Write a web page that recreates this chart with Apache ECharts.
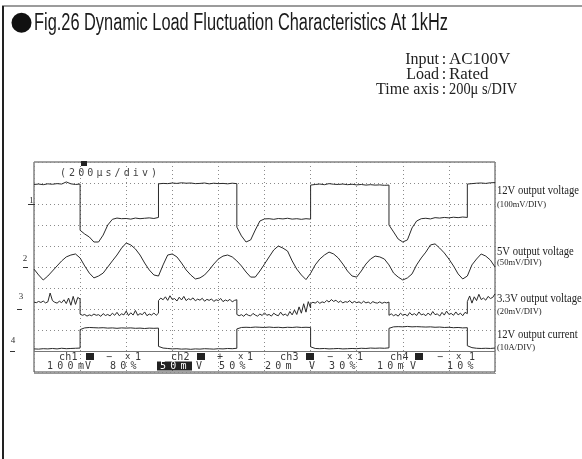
<!DOCTYPE html>
<html>
<head>
<meta charset="utf-8">
<script src="https://cdn.jsdelivr.net/npm/echarts@6/dist/echarts.min.js"></script>
<style>
html,body{margin:0;padding:0;background:#fff;}
#main{width:582px;height:459px;}
</style>
</head>
<body>
<div id="main"></div>
<script>
// ---- data (time in divisions of 200 us, values in screen divisions) ----
const time = [0,0.1,0.2,0.3,0.4,0.5,0.6,0.7,0.8,0.9,1.0,
  1.0,1.1,1.2,1.3,1.4,1.5,1.6,1.7,1.8,1.9,2.0,2.1,2.2,2.3,2.4,2.5,2.6,2.7,
  2.7,2.8,2.9,3.0,3.1,3.2,3.3,3.4,3.5,3.6,3.7,3.8,3.9,4.0,4.1,4.2,4.3,4.4,
  4.4,4.5,4.6,4.7,4.8,4.9,5.0,5.1,5.2,5.3,5.4,5.5,5.6,5.7,5.8,5.9,6.0,
  6.0,6.1,6.2,6.3,6.4,6.5,6.6,6.7,6.8,6.9,7.0,7.1,7.2,7.3,7.4,7.5,7.6,7.7,
  7.7,7.8,7.9,8.0,8.1,8.2,8.3,8.4,8.5,8.6,8.7,8.8,8.9,9.0,9.1,9.2,9.3,9.4,
  9.4,9.5,9.6,9.7,9.8,9.9,10.0];

const timeFine = [0,0.05,0.1,0.15,0.2,0.25,0.3,0.35,0.4,0.45,0.5,0.55,0.6,0.65,0.7,0.75,0.8,0.85,0.9,0.95,1.0,
  1.0,1.05,1.1,1.15,1.2,1.25,1.3,1.35,1.4,1.45,1.5,1.55,1.6,1.65,1.7,1.75,1.8,1.85,1.9,1.95,2.0,2.05,2.1,2.15,2.2,2.25,2.3,2.35,2.4,2.45,2.5,2.55,2.6,2.65,2.7,
  2.7,2.75,2.8,2.85,2.9,2.95,3.0,3.05,3.1,3.15,3.2,3.25,3.3,3.35,3.4,3.45,3.5,3.55,3.6,3.65,3.7,3.75,3.8,3.85,3.9,3.95,4.0,4.05,4.1,4.15,4.2,4.25,4.3,4.35,4.4,
  4.4,4.45,4.5,4.55,4.6,4.65,4.7,4.75,4.8,4.85,4.9,4.95,5.0,5.05,5.1,5.15,5.2,5.25,5.3,5.35,5.4,5.45,5.5,5.55,5.6,5.65,5.7,5.75,5.8,5.85,5.9,5.95,6.0,
  6.0,6.05,6.1,6.15,6.2,6.25,6.3,6.35,6.4,6.45,6.5,6.55,6.6,6.65,6.7,6.75,6.8,6.85,6.9,6.95,7.0,7.05,7.1,7.15,7.2,7.25,7.3,7.35,7.4,7.45,7.5,7.55,7.6,7.65,7.7,
  7.7,7.75,7.8,7.85,7.9,7.95,8.0,8.05,8.1,8.15,8.2,8.25,8.3,8.35,8.4,8.45,8.5,8.55,8.6,8.65,8.7,8.75,8.8,8.85,8.9,8.95,9.0,9.05,9.1,9.15,9.2,9.25,9.3,9.35,9.4,
  9.4,9.45,9.5,9.55,9.6,9.65,9.7,9.75,9.8,9.85,9.9,9.95,10.0];

const ch1_12V = [8.93,8.95,8.92,8.96,8.94,8.97,8.95,9.05,8.96,8.93,8.95,
  6.75,6.57,6.43,6.19,6.19,6.52,7.0,7.27,7.33,7.30,7.31,7.28,7.33,7.30,7.32,7.34,7.31,7.36,
  8.96,8.98,8.97,9.0,8.98,9.01,8.99,9.0,8.97,8.98,9.0,8.96,8.99,8.97,8.98,8.96,8.99,8.97,
  6.9,6.48,6.19,6.29,6.76,7.19,7.29,7.30,7.27,7.31,7.29,7.32,7.28,7.3,7.27,7.3,7.28,
  8.9,8.93,8.95,8.92,8.97,8.94,8.93,8.95,8.92,8.94,8.91,8.93,8.9,8.92,8.9,8.91,8.89,8.9,
  7.0,6.67,6.33,6.19,6.29,6.86,7.19,7.3,7.32,7.29,7.35,7.33,7.36,7.34,7.37,7.35,7.38,7.36,
  8.95,8.97,8.99,9.0,8.98,9.01,9.02];

const ch2_5V = [4.90,4.62,4.38,4.57,4.81,5.05,5.29,5.48,5.57,5.62,5.43,
  5.43,5.05,4.71,4.48,4.57,4.71,5.0,5.29,5.57,5.90,6.14,6.05,5.86,5.57,5.19,4.86,4.62,4.57,
  4.57,5.10,5.57,5.62,5.48,5.19,4.86,4.62,4.43,4.48,4.62,4.86,5.14,5.38,5.52,5.57,5.48,5.29,
  5.29,5.05,4.76,4.52,4.52,4.81,5.14,5.48,5.81,6.0,5.90,5.76,5.29,4.90,4.62,4.40,4.70,
  4.70,5.10,5.38,5.57,5.71,5.62,5.43,5.14,4.81,4.57,4.52,4.81,5.14,5.38,5.52,5.48,5.38,5.10,
  5.10,4.71,4.52,4.38,4.48,4.67,5.10,5.43,5.71,6.05,6.10,5.90,5.67,5.38,5.05,4.67,4.43,4.57,
  4.57,5.10,5.38,5.62,5.52,5.33,5.0];

// 3.3V trace sampled on timeFine
const ch3_3V3 = [3.33,3.30,3.36,3.31,3.38,3.29,3.34,3.76,3.40,3.32,3.28,3.37,3.30,3.44,3.26,3.52,3.18,3.60,3.22,3.55,3.48,
  2.76,2.70,2.74,2.66,2.72,2.68,2.76,2.70,2.73,2.65,2.78,2.69,2.74,2.67,2.80,2.70,2.84,2.68,2.77,2.72,2.90,2.69,2.82,2.71,2.93,2.70,2.78,2.73,2.86,2.68,2.76,2.71,2.81,2.70,2.80,
  3.40,3.52,3.44,3.58,3.41,3.63,3.45,3.50,3.38,3.56,3.43,3.60,3.40,3.49,3.44,3.53,3.39,3.47,3.42,3.51,3.37,3.46,3.41,3.48,3.36,3.44,3.40,3.50,3.35,3.43,3.38,3.46,3.34,3.41,3.44,
  2.74,2.68,2.73,2.65,2.77,2.70,2.67,2.79,2.71,2.66,2.76,2.69,2.82,2.70,2.74,2.66,2.80,2.72,2.68,2.85,2.70,2.76,2.67,2.88,2.72,2.95,2.74,3.10,2.80,3.25,2.85,3.35,3.05,
  3.26,3.32,3.28,3.36,3.27,3.34,3.30,3.41,3.33,3.45,3.36,3.42,3.31,3.38,3.29,3.35,3.32,3.40,3.28,3.36,3.30,3.34,3.27,3.37,3.29,3.33,3.26,3.35,3.30,3.28,3.34,3.27,3.32,3.29,3.33,
  2.70,2.77,2.68,2.74,2.66,2.80,2.70,2.75,2.67,2.83,2.71,2.78,2.69,2.86,2.72,2.76,2.68,2.81,2.70,2.88,2.73,2.77,2.66,2.84,2.71,2.90,2.74,2.79,2.70,2.86,2.72,2.80,2.68,2.84,2.78,
  3.35,3.62,3.28,3.58,3.40,3.70,3.45,3.52,3.42,3.60,3.50,3.55,3.72];

const ch4_12A = [1.10,1.09,1.11,1.10,1.12,1.10,1.13,1.11,1.12,1.13,1.14,
  2.02,2.10,2.12,2.11,2.10,2.11,2.09,2.10,2.08,2.10,2.09,2.10,2.08,2.09,2.07,2.09,2.08,2.09,
  1.22,1.14,1.12,1.10,1.11,1.09,1.10,1.08,1.10,1.09,1.11,1.10,1.09,1.11,1.10,1.12,1.11,1.13,
  2.05,2.12,2.13,2.12,2.14,2.13,2.12,2.14,2.12,2.13,2.11,2.13,2.12,2.14,2.12,2.13,2.12,
  1.20,1.12,1.11,1.12,1.10,1.11,1.12,1.10,1.11,1.12,1.11,1.13,1.12,1.14,1.13,1.14,1.13,1.15,
  2.08,2.15,2.16,2.15,2.17,2.15,2.16,2.15,2.14,2.15,2.13,2.14,2.12,2.13,2.11,2.12,2.10,2.11,
  1.25,1.16,1.13,1.12,1.13,1.12,1.14];

const titleText = 'Fig.26 Dynamic Load Fluctuation Characteristics At 1kHz';
const condKeys = ['Input', 'Load', 'Time axis'];
const condVals = ['AC100V', 'Rated', '200\u03bc s/DIV'];
const chanNames = ['12V output voltage', '5V output voltage', '3.3V output voltage', '12V output current'];
const chanScales = ['(100mV/DIV)', '(50mV/DIV)', '(20mV/DIV)', '(10A/DIV)'];
const groundLevels = [8, 5, 3, 1];
const groundLabels = ['1', '2', '3', '4'];

// ---- chart ----
const chart = echarts.init(document.getElementById('main'));
const traceColor = '#2a2a2a';
function line(name, t, vals){
  return {name, type:'line', data:t.map((x,i)=>[x, vals[i]]), showSymbol:false, symbol:'none',
    lineStyle:{color:traceColor, width:1}, itemStyle:{color:traceColor}, animation:false, silent:true};
}

const ctx = document.createElement('canvas').getContext('2d');
function measure(font, s){ ctx.font = font; return ctx.measureText(s).width; }
const TITLE_FONT = '23px "Liberation Sans"';
const tw = measure(TITLE_FONT, titleText);
const NAME_FONT = '13px "Liberation Serif"';
const SCALE_FONT = '9px "Liberation Serif"';
const nameScale = 82 / measure(NAME_FONT, chanNames[0]);
const subScale = 49 / measure(SCALE_FONT, chanScales[0]);

const MONO = '"DejaVu Sans Mono", monospace';
function chars(str, x0, y, pitch, fill, size){
  const out = [];
  for (let i=0;i<str.length;i++){
    if (str[i]===' ') continue;
    out.push({type:'text', x:x0+i*pitch, y:y, silent:true,
      style:{text:str[i], font:(size||10)+'px '+MONO, fill:fill||'#3a3a3a', align:'left', verticalAlign:'middle'}});
  }
  return out;
}
function txt(t, x, y, font, fill, align, sx){
  const e = {type:'text', x, y, silent:true, style:{text:t, font, fill:fill||'#222', align:align||'left', verticalAlign:'middle'}};
  if (sx) e.scaleX = sx;
  return e;
}

const graphics = [];
// outer frame
graphics.push({type:'line', shape:{x1:2, y1:6, x2:582, y2:6}, style:{stroke:'#7a7a7a', lineWidth:1.5}, silent:true});
graphics.push({type:'line', shape:{x1:3, y1:6, x2:3, y2:459}, style:{stroke:'#222', lineWidth:2}, silent:true});
// title
graphics.push({type:'circle', shape:{cx:21.5, cy:22.7, r:10}, style:{fill:'#111'}, silent:true});
graphics.push(txt(titleText, 34, 23.5, TITLE_FONT, '#1a1a1a', 'left', 414/tw));
// conditions
const condY = [60, 75, 90];
for (let i=0;i<3;i++){
  graphics.push(txt(condKeys[i], 439, condY[i], '16px "Liberation Serif"', '#222', 'right'));
  graphics.push(txt(':', 444, condY[i], '16px "Liberation Serif"', '#222', 'center'));
  graphics.push(txt(condVals[i], 449, condY[i], '16px "Liberation Serif"', '#222', 'left', i===2 ? 0.9 : 1.06));
}
// channel labels on right
const nameY = [191, 252, 299, 335];
const scaleY = [205, 263, 312, 348];
for (let i=0;i<4;i++){
  graphics.push(txt(chanNames[i], 497, nameY[i], NAME_FONT, '#222', 'left', nameScale));
  graphics.push(txt(chanScales[i], 497, scaleY[i], SCALE_FONT, '#222', 'left', subScale));
}
// scope top label
graphics.push(...chars('(200\u03bcs/div)', 60, 173, 9.1, '#444', 10));
graphics.push({type:'rect', shape:{x:81, y:161, width:6, height:5}, style:{fill:'#222'}, silent:true});
// bottom strip
graphics.push({type:'line', shape:{x1:34, y1:351.5, x2:495, y2:351.5}, style:{stroke:'#777', lineWidth:1}, silent:true});
graphics.push({type:'line', shape:{x1:34, y1:373.5, x2:496, y2:373.5}, style:{stroke:'#999', lineWidth:1}, silent:true});
const r1 = 357, r2 = 366;
const row1 = [['ch1',59],['ch2',171],['ch3',280],['ch4',390]];
const sq = [86, 197, 306, 415];
const sign = [['\u2212',106],['+',217],['\u2212',327],['\u2212',437]];
const xs = [[125,135],[238,247],[347,357],[456,469]];
for (let i=0;i<4;i++){
  graphics.push(...chars(row1[i][0], row1[i][1], r1, 6.3, '#3a3a3a', 10));
  graphics.push({type:'rect', shape:{x:sq[i], y:353, width:8, height:7}, style:{fill:'#222'}, silent:true});
  graphics.push(txt(sign[i][0], sign[i][1], r1, '10px '+MONO, '#3a3a3a'));
  graphics.push(txt('x', xs[i][0], r1, '9px '+MONO, '#3a3a3a'));
  graphics.push(txt('1', xs[i][1], r1, '10px '+MONO, '#3a3a3a'));
}
graphics.push({type:'rect', shape:{x:157, y:361.5, width:35, height:9}, style:{fill:'#222'}, silent:true});
const row2 = [['100m',47,'#3a3a3a'],['V',85,'#3a3a3a'],['80%',110,'#3a3a3a'],['50m',160,'#fff'],['V',196,'#3a3a3a'],
  ['50%',219,'#3a3a3a'],['20m',265,'#3a3a3a'],['V',309,'#3a3a3a'],['30%',329,'#3a3a3a'],['10m',377,'#3a3a3a'],
  ['V',410,'#3a3a3a'],['10%',447,'#3a3a3a']];
row2.forEach(r=>graphics.push(...chars(r[0], r[1], r2, 10.3, r[2], 10)));

chart.setOption({
  animation:false,
  grid:{left:34, top:162, width:461, height:210, show:true, borderColor:'#444', borderWidth:1, backgroundColor:'#fff'},
  xAxis:{type:'value', min:0, max:10, interval:1, axisLine:{show:false}, axisTick:{show:false}, axisLabel:{show:false},
    splitLine:{show:true, lineStyle:{color:'#8a8a8a', type:[1,3], width:1}}},
  yAxis:{type:'value', min:0, max:10, interval:1, axisLine:{show:false}, axisTick:{show:false}, axisLabel:{show:false},
    splitLine:{show:true, lineStyle:{color:'#8a8a8a', type:[1,3], width:1}}},
  series:[line('12V output voltage', time, ch1_12V), line('5V output voltage', time, ch2_5V),
          line('3.3V output voltage', timeFine, ch3_3V3), line('12V output current', time, ch4_12A)],
  graphic:graphics
});

// ground markers positioned through the y axis scale
const gx = [[28,35,31.5,4],[23,28,25,9],[17,22,21,13],[10,15,13,11]];
const gEls = [];
for (let i=0;i<4;i++){
  const py = Math.round(chart.convertToPixel({yAxisIndex:0}, groundLevels[i])) + 0.5;
  gEls.push({type:'line', shape:{x1:gx[i][0], y1:py, x2:gx[i][1], y2:py}, style:{stroke:'#333', lineWidth:1}, silent:true});
  gEls.push(txt(groundLabels[i], gx[i][2], py - gx[i][3], '9px "Liberation Serif"', '#333', 'center'));
}
chart.setOption({graphic: graphics.concat(gEls)}, {replaceMerge:['graphic']});
</script>
</body>
</html>
